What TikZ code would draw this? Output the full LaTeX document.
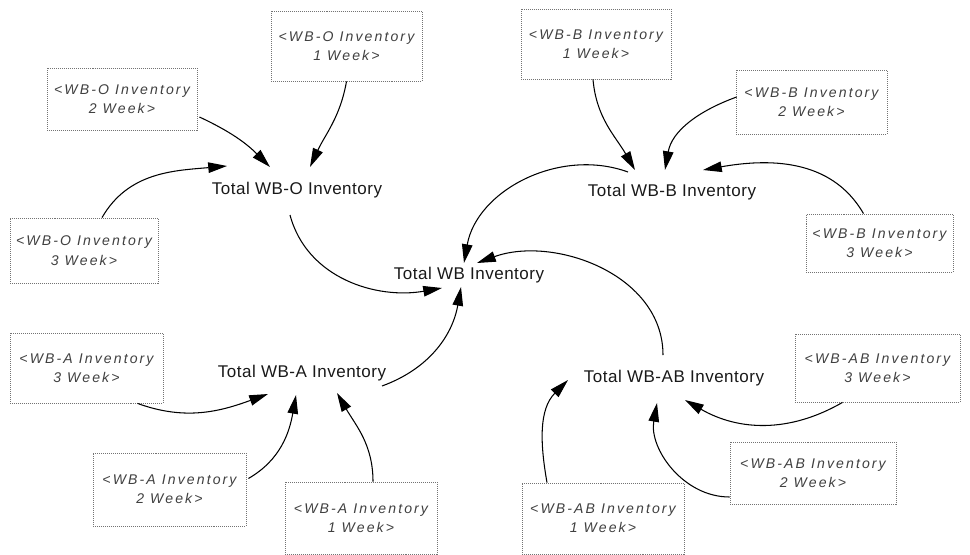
\documentclass[tikz,border=0pt]{standalone}
\usepackage{fontspec}
\setmainfont{Liberation Sans}
\usetikzlibrary{arrows.meta,calc}
\newcommand\boxline[1]{\makebox[0pt]{#1}}
\begin{document}
\begin{tikzpicture}[x=0.03cm,y=-0.03cm,
  box/.style 2 args={draw=black!55, densely dotted, line width=0.7pt,
    inner sep=0pt, align=center, text=black!75,
    minimum width=#1*0.03cm, minimum height=#2*0.03cm,
    font=\fontsize{12}{16.5}\selectfont\itshape\addfontfeature{LetterSpace=15}},
  total/.style={inner sep=0pt, text=black!90,
    font=\fontsize{14.5}{17}\selectfont\addfontfeature{LetterSpace=3}},
  tip/.tip={Triangle[length=16pt,width=9pt]},
  conn/.style={-tip, line width=0.9pt, black}]
\fill[white] (0,0) rectangle (970,555);
\useasboundingbox (0,0) rectangle (970,555);

% aggregate stocks
\node[total] (TW)  at (469,275) {Total WB Inventory};
\node[total] (TO)  at (297,190) {Total WB-O Inventory};
\node[total] (TB)  at (672,192) {Total WB-B Inventory};
\node[total] (TA)  at (302,373) {Total WB-A Inventory};
\node[total] (TAB) at (674,378) {Total WB-AB Inventory};

% shadow variables
\node[box={151}{70}] (O1) at (346.5,46)  {\boxline{<WB-O Inventory}\\\boxline{1 Week>}};
\node[box={150}{62}] (O2) at (122,99)    {\boxline{<WB-O Inventory}\\\boxline{2 Week>}};
\node[box={148}{65}] (O3) at (84,250.5)  {\boxline{<WB-O Inventory}\\\boxline{3 Week>}};
\node[box={150}{70}] (B1) at (596,44)    {\boxline{<WB-B Inventory}\\\boxline{1 Week>}};
\node[box={151}{64}] (B2) at (811.5,102) {\boxline{<WB-B Inventory}\\\boxline{2 Week>}};
\node[box={147}{58}] (B3) at (879.5,243) {\boxline{<WB-B Inventory}\\\boxline{3 Week>}};
\node[box={153}{70}] (A3) at (86.5,368)  {\boxline{<WB-A Inventory}\\\boxline{3 Week>}};
\node[box={153}{73}] (A2) at (169.5,489.5) {\boxline{<WB-A Inventory}\\\boxline{2 Week>}};
\node[box={152}{72}] (A1) at (361,518)   {\boxline{<WB-A Inventory}\\\boxline{1 Week>}};
\node[box={165}{68}] (AB3) at (877.5,368) {\boxline{<WB-AB Inventory}\\\boxline{3 Week>}};
\node[box={166}{62}] (AB2) at (813,473)  {\boxline{<WB-AB Inventory}\\\boxline{2 Week>}};
\node[box={162}{71}] (AB1) at (603,518.5) {\boxline{<WB-AB Inventory}\\\boxline{1 Week>}};

% WB-O links
\draw[conn] ($(O2.east)+(2,18)$) to[out=-25,in=135] ($(TO.center)+(-27,-23)$);
\draw[conn] (O1.south) to[out=-100,in=65] ($(TO.center)+(13,-23)$);
\draw[conn] ($(O3.north)+(18,0)$) to[out=60,in=185] ($(TO.center)+(-70,-24)$);
\draw[conn] ($(TO.center)+(-7,25)$) to[out=-75,in=190] ($(TW.center)+(-27,13)$);

% WB-B links
\draw[conn] ($(B1.south)+(-3,0)$) to[out=-85,in=120] ($(TB.center)+(-37,-22)$);
\draw[conn] ($(B2.west)+(1,-5)$) to[out=200,in=80] ($(TB.center)+(-7,-22)$);
\draw[conn] ($(B3.north)+(-16,0)$) to[out=120,in=10] ($(TB.center)+(31,-22)$);
\draw[conn] ($(TB.center)+(-44,-20)$) to[out=160,in=80] ($(TW.center)+(-5,-12)$);

% WB-A links
\draw[conn] ($(A3.south)+(51,0)$) to[out=-20,in=200] ($(TA.center)+(-34,21)$);
\draw[conn] ($(A2.east)+(2,-11)$) to[out=30,in=-100] ($(TA.center)+(-6,22)$);
\draw[conn] ($(A1.north)+(12,0)$) to[out=90,in=-60] ($(TA.center)+(35,20)$);
\draw[conn] ($(TA.center)+(80,13)$) to[out=20,in=-100] ($(TW.center)+(-8,12)$);

% WB-AB links
\draw[conn] ($(AB3.south)+(-35,0)$) to[out=210,in=-30] ($(TAB.center)+(11,22)$);
\draw[conn] ($(AB2.west)+(0,24)$) to[out=180,in=-100] ($(TAB.center)+(-17,25)$);
\draw[conn] ($(AB1.north)+(-56,0)$) to[out=100,in=225] ($(TAB.center)+(-106,2)$);
\draw[conn] ($(TAB.center)+(-11,-23)$) to[out=90,in=20] ($(TW.center)+(8,-12)$);
\end{tikzpicture}
\end{document}
